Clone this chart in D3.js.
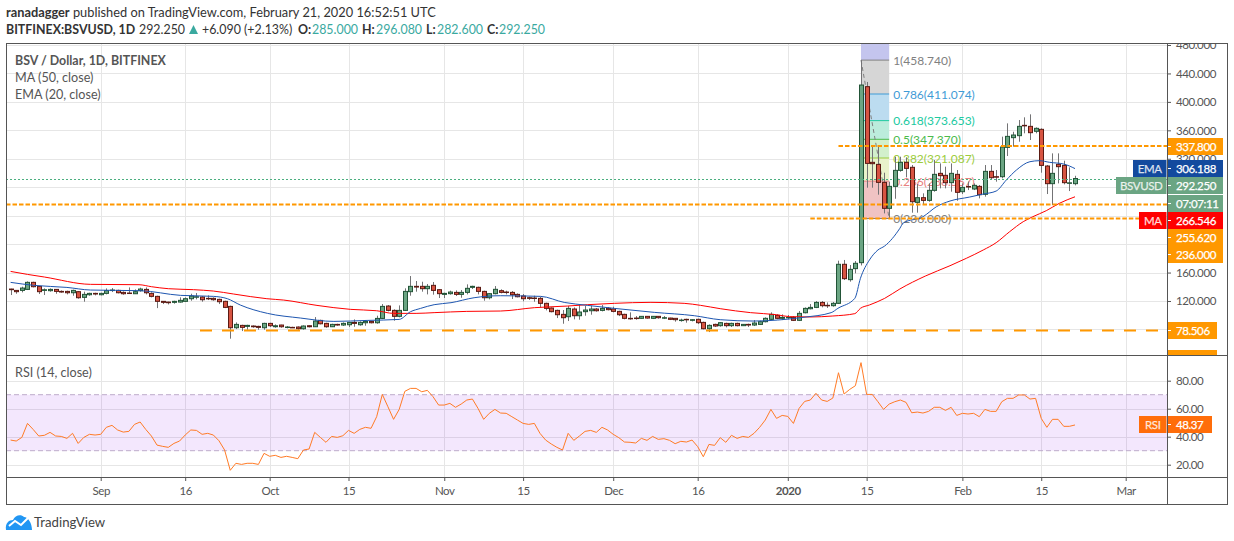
<!DOCTYPE html>
<html>
<head>
<meta charset="utf-8">
<title>BSV / Dollar</title>
<script src="https://cdnjs.cloudflare.com/ajax/libs/d3/7.8.5/d3.min.js"></script>
<style>
  html, body { margin: 0; padding: 0; background: #fff; }
  svg { display: block; }
  text { font-family: Lato, "Open Sans", sans-serif; }
</style>
</head>
<body>
<svg id="chart" width="1234" height="541"></svg>
<script>
// daily candles from 16 Aug 2019, [open, high, low, close]
const ohlc = [
  [136.8,137.3,128.4,135.9],[134.9,135.4,130.2,133.1],[134.9,140.1,132.1,138.2],[136.3,147.6,135.4,146.2],
  [146.2,147.1,139.1,140.1],[140.5,141,129.8,133.1],[134.9,137.7,128.4,135.8],[134.5,137.7,133.1,136.3],
  [136.3,136.8,130.2,133.5],[133.5,134.9,131.6,132.6],[133.5,134.5,129.3,131.6],[131.6,135.9,127.4,134.9],
  [133.1,134,123.2,124.6],[125.1,133.1,119,129.3],[128.8,131.6,127.4,130.7],[130.7,131.6,127.9,129.8],
  [128.8,131.6,127.9,130.7],[130.7,137.7,129.3,134.5],[134.9,138.2,132.6,135.4],[134.9,135.9,130.7,131.6],
  [132.1,133.5,128.8,130.2],[131.2,139.1,129.8,130.7],[130.2,136.3,129.8,133.1],[134.5,138.7,133.1,136.8],
  [136.3,139.1,129.3,131.6],[130.7,132.1,125.1,126.5],[126.5,127.4,110,119.5],[119.5,119.9,115.7,118.1],
  [118.5,119,115.2,117.6],[118.1,120.4,116.2,119.5],[118.5,125.1,117.6,120.9],[119.5,125.1,118.5,123.2],
  [123.2,130.2,120.4,126.9],[125.6,131.2,122.3,126],[125.6,126.9,119,121.8],[123.7,127.9,121.3,123.2],
  [123.7,125.1,120.4,121.8],[122.3,123.2,115.7,119],[119.5,120.4,110,111],[112.4,113.4,67,82.4],
  [82.4,89.9,80.5,87.1],[85.7,86.6,77.7,82.9],[84.3,86.6,79.6,85.7],[84.8,85.7,82.4,83.8],
  [84.3,85.2,79.6,82.9],[82.4,89.4,79.6,88.5],[88.5,89.4,83.4,85.2],[83.8,87.1,82.4,85.2],
  [86.2,86.6,82.4,83.8],[83.4,84.8,81.5,83.4],[82.9,83.8,82,82.7],[83.4,84.3,79.6,81],
  [81,85.7,79.6,84.8],[85.2,85.7,82.9,83.8],[83.8,97.4,83.4,91.8],[92.7,93.7,87.1,88],
  [88.5,89.4,82.4,83.8],[83.8,88,83.4,87.1],[87.1,88,85.2,86.2],[86.2,89.9,84.8,88.5],
  [86.6,89.9,83.4,89.9],[89.9,94.1,83.8,88.5],[86.6,91.4,85.2,89.9],[89.4,93.2,85.2,91.3],
  [91.3,91.8,88.5,89.4],[89.4,99.3,88,95.5],[95.5,115.7,94.6,112.4],[112.9,114.3,105.4,106.8],
  [106.8,108.2,92.3,98.4],[98.4,113.8,97,106.8],[106.8,137.8,105.9,133.5],[133.1,155.1,127.4,140.6],
  [140.6,148.1,133.1,139.6],[140.6,147.1,133.1,137.3],[137.3,143.9,129.3,140.6],[142,146.7,128.9,134.9],
  [135.9,136.8,124.2,130.3],[129.3,131.7,124.2,130.7],[130.3,134.5,128.9,132.6],[132.1,134.9,127,129.3],
  [129.3,135.4,124.6,132.1],[132.1,143.4,129.3,137.8],[139.2,141.5,136.8,140.6],[139.2,140.1,129.3,133.5],
  [133.5,134.5,120.4,124.6],[124.6,131.2,122.3,130.3],[130.3,141,129.3,136.4],[134.5,136.4,130.7,132.1],
  [132.6,134.5,129.3,132.1],[132.1,134,122.8,128.9],[129.3,130.7,125.1,126],[127,129.8,119.5,123.2],
  [124.6,126,121.4,123.7],[124.2,127.4,119,123.7],[123.7,126,111,116.7],[116.7,117.6,106.8,109.6],
  [110.1,111,104,105],[106.8,107.8,96,100.7],[101.2,107.3,88,96.5],[97.9,112.9,91.8,109.6],
  [108.7,111,94.2,99.3],[99.3,114.3,93.7,104.5],[105,112.9,99.3,107.3],[106.3,113.4,100.7,108.7],
  [108.7,110.1,105,106.3],[106.8,114.3,105.4,109.6],[109.6,111.5,106.8,107.8],[108.7,112,104,105.4],
  [105.4,106.3,98.8,100.7],[101.2,102.1,94.2,95.6],[95.6,104,93.7,95.1],[96,98.8,93.7,95.6],
  [95.6,98.8,95.1,98.4],[98.4,98.8,95.1,96],[95.6,98.8,94.6,98.4],[98.4,98.8,95.1,96.5],
  [96,98.8,94.6,96.5],[96,96.5,93.2,94.2],[95.6,96,90.9,93.7],[92.8,95.1,90.9,93.2],
  [94.2,95.1,89.5,94],[92.8,94.2,91.3,93.7],[94.2,95.1,87.6,89.5],[89.9,90.9,80.1,81],
  [81,87.1,76.3,85.7],[87.1,88.1,83.4,84.8],[85.3,90.4,83.9,89.5],[88.5,89.5,82.9,85.3],
  [85.3,89.5,83.4,88.5],[88.5,89.5,84.3,85.3],[85.3,87.6,84.8,87.1],[87.1,88.1,83.4,86.2],
  [86.2,93.2,84.8,89],[87.1,92.3,86.2,90.9],[90.9,97,89.9,95.6],[94.2,104,93.2,101.2],
  [99.8,101.2,94.2,95.6],[95.6,101.2,93.2,97],[96.5,100.3,94.2,97],[97,98.8,91.8,92.8],
  [92.8,105.9,91.8,102.6],[103.5,111,102.6,109.6],[109.1,115.7,108.2,111],[111,119.9,110,118],
  [118,120,111.1,113.4],[113.9,118,110.2,113.4],[113.4,118.6,112,116.7],[116.7,176.7,115.8,171.6],
  [171.6,177.7,149.5,151.4],[150,170.6,147.2,164.5],[165.5,176.2,158.9,173],[173.9,458.74,170,423.7],
  [421.4,428,279.3,313.5],[315,337,279.3,313.1],[312.1,337,269.5,286.8],[286.8,300.4,243.2,250.3],
  [250.3,287.8,236,281.2],[281.2,322.9,263.8,303.7],[303.7,322.9,301.8,315],[315,322,293.9,306.5],
  [308,311.2,244.2,259.6],[258.7,284.5,244.2,265.3],[265.3,271.4,255,261.5],[261.5,285.4,259.6,275.6],
  [275.6,318.2,273.7,298.1],[299.5,313.5,278.4,296.2],[296.7,308.9,278.4,286.4],[286.4,313.5,273.7,299.5],
  [298.1,304.2,261,272.8],[273.7,285.4,270.4,279.8],[281,288,276,280.5],[277.5,285.4,276,282.6],
  [281.2,283.1,264.3,269.5],[270,311.2,266.7,302.3],[302.3,311.2,291.1,293.4],[294.8,304.2,287.8,294.4],
  [294.8,351.1,292.5,336.5],[336,369.8,323.9,351.5],[349.7,358,337,353.4],[352.5,374.5,344,365.6],
  [367,378.3,355.8,366.5],[365.6,382.5,346.4,356.7],[358.6,364.2,355.8,362.8],[361.4,362.8,300.4,310.7],
  [309.8,311.2,270.4,285],[285,327.6,255,299.5],[312.2,327.6,285.4,308.9],[310.7,317.3,284,286.4],
  [285.5,307.9,274.6,286.16],[285,296.08,282.6,292.25]
];

// moving averages at the bars listed in the *Bars arrays
const maBars = [0,3,6,14.2,22.8,25,28,32.5,36,39.6,45.5,48.5,54.4,60.4,65,68,72,75.2,81,87,93,98.9,102.4,107.2,113.7,119.6,122.5,126,131.4,136,138.3,141.9,146,149.9,150.9,152.5,155.2,157.9,162.4,166.8,169.7,172.7,175,177.4,179.8,181.5,183.9,186.2,189];
const maValues = [161.6,157.4,153.7,143.4,142.9,140.1,137.3,135.9,134,129.8,123.2,121.3,113.8,108.2,106.3,102.6,102.6,103.6,105.4,105.9,110.6,112.9,114.8,116.7,118.1,116.7,113.9,109.2,103.6,100.7,98,97.5,98.9,102.2,109.7,114.4,123.7,136.9,155,169.6,180,191.7,202,217.5,231.5,238.5,247,257.3,266.546];
const emaBars = [0,4.1,10,14.2,23,30.2,36,38.5,40.8,45.6,51.5,57.4,63.3,69,71,72.8,75.2,78.2,82.3,87,94.1,98.3,102.4,107.2,114.3,121.4,126,132,136.2,140.7,145.7,146.9,149.9,150.9,152.5,154,155.2,157.9,158.5,162,164.4,166.8,170.3,172.7,175,176.8,178.6,181,182.7,184.5,187,189];
const emaValues = [146.2,142,139.1,135.4,134.5,127.9,126.5,123.2,114.3,102.6,96,91.3,92.7,94.1,104.9,109.6,114.8,117.6,124.6,127.4,126.5,118,113.9,109.6,104,99.3,93.7,91.8,93.2,97,103.6,109.7,123.7,151.9,177.7,191.7,197.3,222.2,229.7,238.5,252.6,260.6,266.2,270.4,274.6,290.1,304.2,315.9,317.3,315,312.6,306.188];

// RSI 14, one value per candle
const rsiValues = [
  37.6,36.9,39.5,49.5,45.2,40.5,41,43.1,40.5,40.2,38.8,42.4,35.2,39.5,41.7,41.2,41.7,46.7,48.1,44.8,
  43.3,43.8,48.8,50.5,45.2,40.5,34,33.1,32.4,35.2,36.9,41.2,44.8,44.5,41.7,42.4,41.2,37.1,30.5,16,
  21,20.2,21,21,20.2,28.1,26,26.7,25.2,26,25.2,24.3,30.5,31.2,43.1,39.5,36,40.2,39.5,40.7,
  44.5,42.4,45.2,46.7,46,54.3,70.2,61.4,52.4,59.5,72.4,74.5,74.5,72.1,73.1,68.6,62.6,62.6,63.8,61,
  63.3,66.2,66.9,60.2,52.4,56.7,59.5,56.9,56.7,54.3,51.9,49.5,48.8,49.5,42.4,37.6,34.8,32.4,30.5,42.4,
  37.4,40.5,43.8,44.5,43.1,46.7,44.8,41.7,39.3,36.2,36,35.5,38.8,37.4,40.2,38.1,38.6,37.4,35,36.7,
  36.2,37.6,32.9,25.7,34.5,33.8,39.3,36,41,38.8,40.2,39.5,42.4,46.7,51.9,59.5,53.1,55.2,54.5,49.5,
  60.2,65.2,66.2,71,66.2,65.2,67.6,85.7,70.5,73.8,76.4,92.9,70.2,70.2,65,59.5,63.3,65,66.2,64.5,
  57.1,57.6,56.9,58.1,61,61,58.8,61,55.2,56.7,56.2,56.7,54.3,59.5,58.1,58.1,65,67.4,67.4,69.8,
  69.8,66.9,67.4,53.1,46.7,52.4,52.4,47.4,47.4,48.37
];

const priceTicks = [480,440,400,360,320,280,240,200,160,120,80];
// the others sit fully under the tags on the scale
const priceTickLabels = [480,440,400,360,320,160,120];
const rsiTicks = [80,60,40,20];
const timeTickBars = [16,31,46,60,77,91,107,122,138,152,169,183,198];
const timeTickLabels = ["Sep","16","Oct","15","Nov","15","Dec","16","2020","15","Feb","15","Mar"];

// fibonacci retracement between the swing high and low
const fibLow = 236, fibHigh = 458.74;
const fibLevels = [1,0.786,0.618,0.5,0.382,0.236,0];
const fibLineColors = ["#808080","#3f9bd6","#20c9a0","#4cbb4c","#9ccc3c","#e88080","#808080"];
const fibFills = ["#d6d6d6","#bcdcf0","#bcecdc","#d2f0cc","#e9f2cb","#f0c3c3"];

const lastClose = 292.25;
const resistance = 337.8, support1 = 255.62, support2 = 236, support3 = 78.506;

const upFill = "#6ba583", upBorder = "#225437", downFill = "#d75442", downBorder = "#5b1a13", wickColor = "#737375";
const gridColor = "#e6e6e6", frameColor = "#555", textColor = "#555", levelColor = "#ff9800", teal = "#3aa99f";

const frame = {left: 6, top: 43, right: 1227, bottom: 504, axisX: 1167, paneBottom: 355, timeTop: 477};

const svg = d3.select("#chart");

const x = d3.scaleLinear().domain([0, 198]).range([10.6, 1125.7]);
const y = d3.scaleLinear().domain([480, 78.506]).range([45, 330.5]);
const yRsi = d3.scaleLinear().domain([80, 20]).range([380.7, 464.7]);

const defs = svg.append("defs");
defs.append("clipPath").attr("id", "priceClip").append("rect")
  .attr("x", frame.left).attr("y", frame.top)
  .attr("width", frame.axisX - frame.left).attr("height", frame.paneBottom - frame.top);
defs.append("clipPath").attr("id", "priceAxisClip").append("rect")
  .attr("x", frame.axisX).attr("y", frame.top)
  .attr("width", frame.right - frame.axisX).attr("height", frame.paneBottom - frame.top);
defs.append("clipPath").attr("id", "rsiClip").append("rect")
  .attr("x", frame.left).attr("y", frame.paneBottom)
  .attr("width", frame.axisX - frame.left).attr("height", frame.timeTop - frame.paneBottom);

// header
const header = svg.append("g").style("font-size", "12.8px").attr("fill", "#333");
const line1 = header.append("text").attr("x", 6).attr("y", 17);
line1.append("tspan").attr("font-weight", "700").text("ranadagger");
line1.append("tspan").text(" published on TradingView.com, February 21, 2020 16:52:51 UTC");

function headerText(px, txt, bold, color) {
  header.append("text").attr("x", px).attr("y", 34)
    .attr("font-weight", bold ? 700 : 400)
    .attr("fill", color || "#333")
    .style("font-size", "12.4px")
    .text(txt);
}
headerText(6, "BITFINEX:BSVUSD, 1D", true);
headerText(139, "292.250");
header.append("path").attr("d", "M189,34 L193.5,25 L198,34 Z").attr("fill", teal);
headerText(202, "+6.090 (+2.13%)");
headerText(298, "O:", true);
headerText(312, "285.000", false, teal);
headerText(362, "H:", true);
headerText(376, "296.080", false, teal);
headerText(426, "L:", true);
headerText(437, "282.600", false, teal);
headerText(487, "C:", true);
headerText(499, "292.250", false, teal);

// grid
const grid = svg.append("g").attr("stroke", gridColor).attr("stroke-width", 1);
grid.append("g").attr("clip-path", "url(#priceClip)").selectAll("line").data(priceTicks).join("line")
  .attr("x1", frame.left).attr("x2", frame.axisX)
  .attr("y1", d => Math.round(y(d)) + 0.5).attr("y2", d => Math.round(y(d)) + 0.5);
grid.append("g").selectAll("line").data(rsiTicks).join("line")
  .attr("x1", frame.left).attr("x2", frame.axisX)
  .attr("y1", d => Math.round(yRsi(d)) + 0.5).attr("y2", d => Math.round(yRsi(d)) + 0.5);
grid.append("g").selectAll("line").data(timeTickBars).join("line")
  .attr("x1", d => Math.round(x(d)) + 0.5).attr("x2", d => Math.round(x(d)) + 0.5)
  .attr("y1", frame.top).attr("y2", frame.timeTop);

// legend text
const legend = svg.append("g").style("font-size", "12.6px").attr("fill", textColor);
legend.append("text").attr("x", 15).attr("y", 65).attr("font-weight", 700).style("font-size", "12.4px").text("BSV / Dollar, 1D, BITFINEX");
legend.append("text").attr("x", 15).attr("y", 82).text("MA (50, close)");
legend.append("text").attr("x", 15).attr("y", 99).text("EMA (20, close)");
legend.append("text").attr("x", 15).attr("y", 377).text("RSI (14, close)");

// price pane
const price = svg.append("g").attr("clip-path", "url(#priceClip)");

const fibValue = l => fibLow + (fibHigh - fibLow) * l;
const fibX0 = x(151), fibX1 = x(156);
price.append("rect").attr("x", fibX0).attr("width", fibX1 - fibX0)
  .attr("y", frame.top).attr("height", y(fibHigh) - frame.top).attr("fill", "#c4c5ee");
price.append("g").selectAll("rect").data(fibFills).join("rect")
  .attr("x", fibX0).attr("width", fibX1 - fibX0)
  .attr("y", (d, i) => y(fibValue(fibLevels[i])))
  .attr("height", (d, i) => y(fibValue(fibLevels[i + 1])) - y(fibValue(fibLevels[i])))
  .attr("fill", d => d);
price.append("g").selectAll("line").data(fibLevels).join("line")
  .attr("x1", fibX0).attr("x2", fibX1)
  .attr("y1", d => y(fibValue(d))).attr("y2", d => y(fibValue(d)))
  .attr("stroke", (d, i) => fibLineColors[i]).attr("stroke-width", 1);
price.append("g").style("font-size", "12px").selectAll("text").data(fibLevels).join("text")
  .attr("x", fibX1 + 4)
  .attr("y", d => y(fibValue(d)) + 4.5)
  .attr("fill", (d, i) => fibLineColors[i])
  .text(d => `${d}(${fibValue(d).toFixed(3)})`);
price.append("line")
  .attr("x1", fibX0).attr("y1", y(fibHigh)).attr("x2", fibX1).attr("y2", y(fibLow))
  .attr("stroke", "#808080").attr("stroke-dasharray", "4,3");

// candles
const candle = price.append("g").selectAll("g").data(ohlc).join("g")
  .attr("transform", (d, i) => `translate(${Math.round(x(i)) + 0.5},0)`);
candle.append("line")
  .attr("y1", d => y(d[1])).attr("y2", d => y(d[2]))
  .attr("stroke", wickColor).attr("stroke-width", 1);
candle.append("rect")
  .attr("x", -2).attr("width", 4)
  .attr("y", d => y(Math.max(d[0], d[3])))
  .attr("height", d => Math.max(Math.abs(y(d[0]) - y(d[3])), 0.5))
  .attr("fill", d => d[3] >= d[0] ? upFill : downFill)
  .attr("stroke", d => d[3] >= d[0] ? upBorder : downBorder)
  .attr("stroke-width", 1);

// moving averages
const lineGen = d3.line().x(d => x(d[0])).y(d => y(d[1])).curve(d3.curveMonotoneX);
price.append("path").datum(maBars.map((b, i) => [b, maValues[i]]))
  .attr("d", lineGen).attr("fill", "none").attr("stroke", "#ff0000").attr("stroke-width", 1);
price.append("path").datum(emaBars.map((b, i) => [b, emaValues[i]]))
  .attr("d", lineGen).attr("fill", "none").attr("stroke", "#1e56b0").attr("stroke-width", 1);

// last price line
price.append("line")
  .attr("x1", frame.left).attr("x2", frame.axisX)
  .attr("y1", Math.round(y(lastClose)) + 0.5).attr("y2", Math.round(y(lastClose)) + 0.5)
  .attr("stroke", "#4caf80").attr("stroke-width", 1).attr("stroke-dasharray", "2,2");

// horizontal levels
price.append("g").selectAll("line")
  .data([[frame.left, support1], [x(142), support2], [x(147), resistance]])
  .join("line")
  .attr("x1", d => d[0]).attr("x2", frame.axisX)
  .attr("y1", d => y(d[1])).attr("y2", d => y(d[1]))
  .attr("stroke", levelColor).attr("stroke-width", 2).attr("stroke-dasharray", "4.5,2");
price.append("line")
  .attr("x1", 200).attr("x2", frame.axisX)
  .attr("y1", y(support3)).attr("y2", y(support3))
  .attr("stroke", levelColor).attr("stroke-width", 2).attr("stroke-dasharray", "12,10");

// rsi pane
const rsi = svg.append("g").attr("clip-path", "url(#rsiClip)");
rsi.append("rect")
  .attr("x", frame.left).attr("width", frame.axisX - frame.left)
  .attr("y", yRsi(70)).attr("height", yRsi(30) - yRsi(70))
  .attr("fill", "rgb(146,40,240)").attr("fill-opacity", 0.115);
rsi.append("g").selectAll("line").data([70, 30]).join("line")
  .attr("x1", frame.left).attr("x2", frame.axisX)
  .attr("y1", d => yRsi(d)).attr("y2", d => yRsi(d))
  .attr("stroke", "#bdaccb").attr("stroke-dasharray", "5,3");
rsi.append("path").datum(rsiValues)
  .attr("d", d3.line().x((d, i) => x(i)).y(d => yRsi(d)))
  .attr("fill", "none").attr("stroke", "#ff7b26").attr("stroke-width", 1);

// axes
function styleAxis(sel) {
  sel.select(".domain").remove();
  sel.selectAll(".tick line").attr("stroke", frameColor);
  sel.selectAll(".tick text").attr("fill", textColor)
    .style("font-family", "Lato, sans-serif").style("font-size", "11.5px").style("letter-spacing", "-0.4px");
}
const priceAxis = d3.axisRight(y).tickValues(priceTickLabels).tickFormat(d3.format(".3f")).tickSize(4).tickPadding(5);
svg.append("g").attr("clip-path", "url(#priceAxisClip)")
  .append("g").attr("transform", `translate(${frame.axisX},0)`).call(priceAxis).call(styleAxis);
const rsiAxis = d3.axisRight(yRsi).tickValues(rsiTicks).tickFormat(d3.format(".2f")).tickSize(4).tickPadding(5);
svg.append("g").attr("transform", `translate(${frame.axisX},0)`).call(rsiAxis).call(styleAxis);
const timeAxis = d3.axisBottom(x).tickValues(timeTickBars)
  .tickFormat((d, i) => timeTickLabels[i]).tickSize(4).tickPadding(6);
svg.append("g").attr("transform", `translate(0,${frame.timeTop})`).call(timeAxis).call(styleAxis)
  .selectAll(".tick text").attr("font-weight", (d, i) => timeTickLabels[i] === "2020" ? 700 : 400);

// tags on the price scale
const tagLayer = svg.append("g").attr("clip-path", "url(#priceAxisClip)");
function tagText(sel) {
  sel.attr("fill", "#fff").attr("stroke", "#fff").attr("stroke-width", 0.25)
    .style("font-size", "11.5px").style("letter-spacing", "-0.4px");
}
function valueTag(top, right, fill, txt) {
  const g = tagLayer.append("g");
  g.append("rect").attr("x", frame.axisX + 0.5).attr("y", top).attr("width", right - frame.axisX - 0.5).attr("height", 17).attr("fill", fill);
  g.append("line").attr("x1", frame.axisX).attr("x2", frame.axisX + 4).attr("y1", top + 8.5).attr("y2", top + 8.5).attr("stroke", "#fff");
  g.append("text").attr("x", frame.axisX + 9).attr("y", top + 12.7).call(tagText).text(txt);
}
function nameTag(top, left, right, fill, txt) {
  svg.append("rect").attr("x", left).attr("y", top).attr("width", right - left).attr("height", 17).attr("fill", fill);
  svg.append("text").attr("x", (left + right) / 2).attr("y", top + 12.7).attr("text-anchor", "middle")
    .call(tagText).attr("fill-opacity", 0.8).attr("stroke-opacity", 0.8).text(txt);
}
valueTag(138, 1223, levelColor, resistance.toFixed(3));
valueTag(160, 1223, "#134a9e", emaValues[emaValues.length - 1].toFixed(3));
valueTag(177, 1223, upFill, lastClose.toFixed(3));
valueTag(195, 1223, upFill, "07:07:11");
valueTag(212, 1223, "#ff0000", maValues[maValues.length - 1].toFixed(3));
valueTag(229, 1223, levelColor, support1.toFixed(3));
valueTag(246, 1223, levelColor, support2.toFixed(3));
valueTag(322, 1217, levelColor, support3.toFixed(3));
valueTag(350, 1217, levelColor, "10.735");
nameTag(160, 1133, 1166.5, "#134a9e", "EMA");
nameTag(177, 1116, 1166.5, upFill, "BSVUSD");
nameTag(212, 1139, 1166.5, "#ff0000", "MA");

// rsi tag
svg.append("rect").attr("x", frame.axisX + 0.5).attr("y", 416).attr("width", 44.5).attr("height", 17).attr("fill", "#ff6d0a");
svg.append("line").attr("x1", frame.axisX).attr("x2", frame.axisX + 4).attr("y1", 424.5).attr("y2", 424.5).attr("stroke", "#fff");
svg.append("text").attr("x", frame.axisX + 9).attr("y", 428.7).call(tagText).text(rsiValues[rsiValues.length - 1].toFixed(2));
nameTag(416, 1139, 1166.5, "#ff6d0a", "RSI");

// frame
const frameG = svg.append("g").attr("stroke", frameColor).attr("stroke-width", 1).attr("fill", "none");
frameG.append("rect").attr("x", frame.left + 0.5).attr("y", frame.top + 0.5)
  .attr("width", frame.right - frame.left).attr("height", frame.bottom - frame.top);
frameG.append("line").attr("x1", frame.axisX + 0.5).attr("x2", frame.axisX + 0.5).attr("y1", frame.top).attr("y2", frame.bottom);
frameG.append("line").attr("x1", frame.left).attr("x2", frame.right).attr("y1", frame.paneBottom + 0.5).attr("y2", frame.paneBottom + 0.5);
frameG.append("line").attr("x1", frame.left).attr("x2", frame.right).attr("y1", frame.timeTop + 0.5).attr("y2", frame.timeTop + 0.5);

// logo
const logo = svg.append("g");
logo.append("path")
  .attr("d", "M6,530 C5,523 9,520 13,520 C15,515 21,514 24,517 C28,517 32,523 32,530 Z")
  .attr("fill", "#2196f3");
logo.append("path")
  .attr("d", "M9,526 L15,521 L21,525 L28,518")
  .attr("fill", "none").attr("stroke", "#fff").attr("stroke-width", 2);
logo.append("text").attr("x", 34).attr("y", 527).attr("fill", "#444")
  .style("font-size", "13.2px").text("TradingView");
</script>
</body>
</html>
